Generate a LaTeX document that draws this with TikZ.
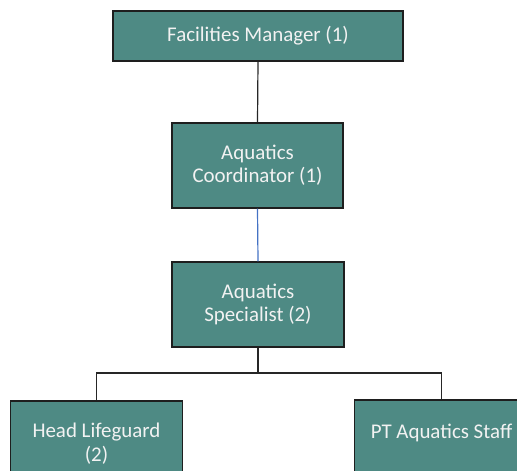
\documentclass[tikz,border=0pt]{standalone}
\usepackage{fontspec}
\setmainfont{Carlito}
\begin{document}
\begin{tikzpicture}[x=1bp,y=-1bp,
  role/.style={draw=boxline, line width=1.2bp, fill=boxfill, text=boxtext,
    align=center, inner sep=0pt, font=\fontsize{21}{23.5}\selectfont},
  link/.style={draw=linkgray, line width=1.2bp}]
  \definecolor{boxfill}{HTML}{4E8A84}
  \definecolor{boxline}{HTML}{1E1E1E}
  \definecolor{boxtext}{HTML}{F2F2F2}
  \definecolor{linkgray}{HTML}{262626}
  \definecolor{linkblue}{HTML}{4472C4}
  \useasboundingbox (0,0) rectangle (517,471);
  \clip (0,0) rectangle (517,471);
  % boxes
  \node[role, minimum width=290bp, minimum height=50bp] (fm) at (258,36) {Facilities Manager (1)};
  \node[role, minimum width=171bp, minimum height=85bp] (ac) at (257.5,165.5) {Aquatics\\Coordinator (1)};
  \node[role, minimum width=172bp, minimum height=85bp] (as) at (258,304.5) {Aquatics\\Specialist (2)};
  \node[role, minimum width=172bp, minimum height=85bp] (hl) at (96.5,443.5) {Head Lifeguard\\(2)};
  \node[role, minimum width=174bp, minimum height=85bp] (pt) at (441.5,442.5) {PT Aquatics Staff\\\mbox{}};
  % connectors
  \draw[link] (fm.south) -- (ac.north);
  \draw[draw=linkblue, line width=1.2bp] (ac.south) -- (as.north);
  \coordinate (split) at (258,373);
  \draw[link] (as.south) -- (split);
  \draw[link] (split) -| (hl.north);
  \draw[link] (split) -| (pt.north);
\end{tikzpicture}
\end{document}
